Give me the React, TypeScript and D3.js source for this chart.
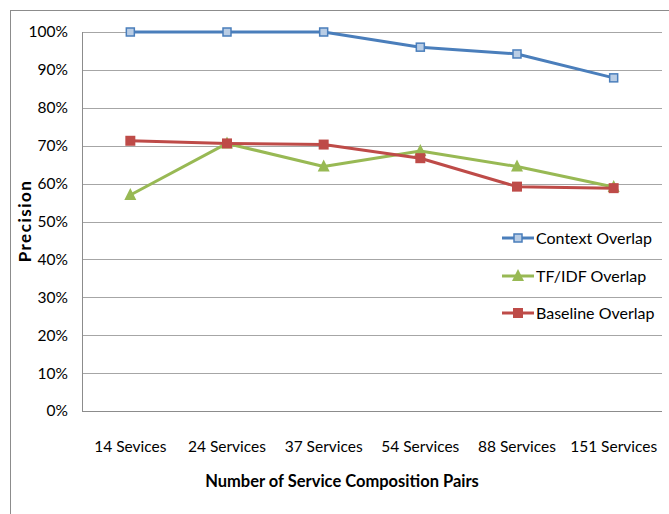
import React from "react";
import * as d3 from "d3";

const categories = ["14 Sevices", "24 Services", "37 Services", "54 Services", "88 Services", "151 Services"];
const contextOverlap = [100, 100, 100, 96.0, 94.2, 87.9];
const tfidfOverlap = [57.0, 70.6, 64.5, 68.6, 64.5, 59.1];
const baselineOverlap = [71.3, 70.6, 70.3, 66.7, 59.2, 58.8];
const yTicks = [0, 10, 20, 30, 40, 50, 60, 70, 80, 90, 100];
const seriesNames = ["Context Overlap", "TF/IDF Overlap", "Baseline Overlap"];

const W = 669, H = 514;
const plot = { left: 82, right: 662, top: 32, bottom: 411 };
const FONT = "Lato, 'Open Sans', sans-serif";

const colors = ["#4a7ebb", "#98b954", "#be4b48"];

function Marker({ kind, x, y }: { kind: number; x: number; y: number }) {
  if (kind === 0) {
    return <rect x={x - 4} y={y - 4} width={8} height={8} fill="#b9cde5" stroke="#4a7ebb" strokeWidth={1.5} />;
  }
  if (kind === 1) {
    const s = 6;
    return <path d={`M${x},${y - s - 1}L${x + s},${y + s - 1}L${x - s},${y + s - 1}Z`} fill="#98b954" />;
  }
  return <rect x={x - 5} y={y - 5} width={10} height={10} fill="#be4b48" />;
}

export default function App() {
  const x = d3.scaleBand<string>().domain(categories).range([plot.left, plot.right]);
  const y = d3.scaleLinear().domain([0, 100]).range([plot.bottom, plot.top]);
  const cx = (c: string) => (x(c) as number) + x.bandwidth() / 2;
  const line = d3.line<[number, number]>().x((d) => d[0]).y((d) => d[1]);
  const series = [contextOverlap, tfidfOverlap, baselineOverlap];
  const legendY = [238, 276, 313];

  return (
    <svg width={W} height={H} style={{ position: "absolute", left: 0, top: 0 }} fontFamily={FONT}>
      <rect x={0} y={0} width={W} height={H} fill="#fff" />
      <rect x={10.5} y={10.5} width={W + 20} height={H + 20} fill="none" stroke="#8c8c8c" strokeWidth={1} />
      {yTicks.map((t) => (
        <g key={t}>
          {t > 0 && (
            <line x1={plot.left} x2={plot.right} y1={Math.round(y(t)) + 0.5} y2={Math.round(y(t)) + 0.5} stroke="#a6a6a6" strokeWidth={1} />
          )}
          <text x={68} y={y(t)} dy="0.35em" textAnchor="end" fontSize={15.5} fill="#000">
            {t + "%"}
          </text>
        </g>
      ))}
      <line x1={plot.left + 0.5} x2={plot.left + 0.5} y1={plot.top} y2={plot.bottom} stroke="#8c8c8c" />
      <line x1={plot.left} x2={plot.right} y1={plot.bottom + 0.5} y2={plot.bottom + 0.5} stroke="#8c8c8c" />
      {categories.map((c) => (
        <text key={c} x={cx(c)} y={447} dy="0.35em" textAnchor="middle" fontSize={15.5} fill="#000">
          {c}
        </text>
      ))}
      <text x={342} y={481} dy="0.35em" textAnchor="middle" fontSize={16.5} fontWeight="bold" fill="#000">
        Number of Service Composition Pairs
      </text>
      <text transform={`translate(25,221) rotate(-90)`} dy="0.35em" textAnchor="middle" fontSize={17} fontWeight="bold" letterSpacing={1.5} fill="#000">
        Precision
      </text>
      {series.map((vals, i) => {
        const pts: [number, number][] = vals.map((v, j) => [cx(categories[j]), y(v)]);
        return (
          <g key={i}>
            <path d={line(pts) || ""} fill="none" stroke={colors[i]} strokeWidth={3} strokeLinejoin="round" />
            {pts.map((p, j) => (
              <Marker key={j} kind={i} x={p[0]} y={p[1]} />
            ))}
          </g>
        );
      })}
      {seriesNames.map((n, i) => (
        <g key={n}>
          <line x1={502} x2={534} y1={legendY[i]} y2={legendY[i]} stroke={colors[i]} strokeWidth={3} />
          <Marker kind={i} x={518} y={legendY[i]} />
          <text x={536} y={legendY[i]} dy="0.35em" fontSize={16} fill="#000">
            {n}
          </text>
        </g>
      ))}
    </svg>
  );
}
